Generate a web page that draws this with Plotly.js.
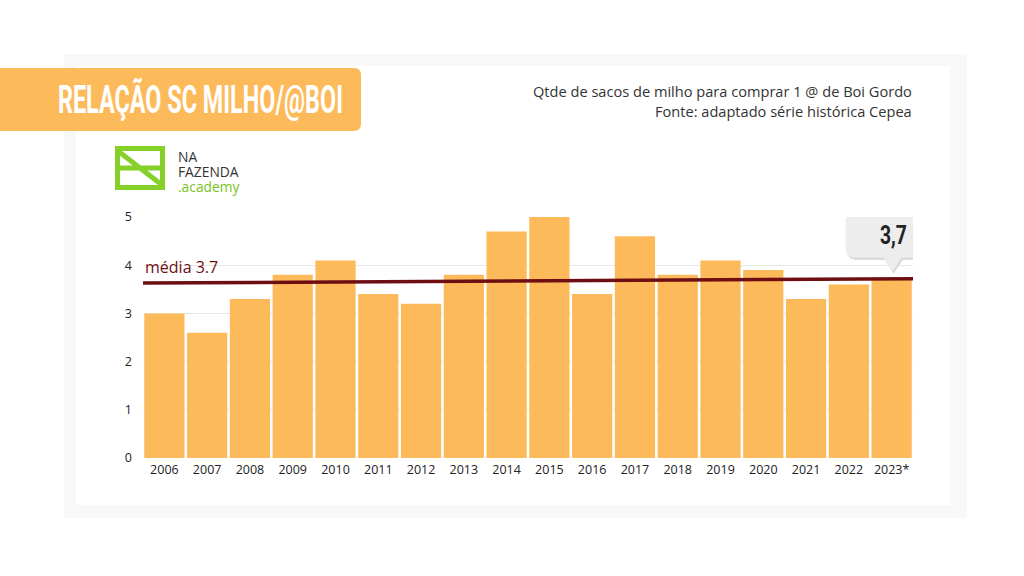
<!DOCTYPE html>
<html><head><meta charset="utf-8">
<script src="https://cdn.plot.ly/plotly-3.0.1.min.js"></script>
<style>html,body{margin:0;padding:0;background:#fff}#chart{width:1024px;height:576px}</style>
</head><body><div id="chart"></div>
<script>
const years = ['2006','2007','2008','2009','2010','2011','2012','2013','2014','2015','2016','2017','2018','2019','2020','2021','2022','2023*'];
const ratio = [3.0,2.6,3.3,3.8,4.1,3.4,3.2,3.8,4.7,5.0,3.4,4.6,3.8,4.1,3.9,3.3,3.6,3.7];
const meanValue = 3.7;
const meanEnds = [3.63, 3.72];
const yTicks = [0,1,2,3,4,5];
const titleText = 'RELAÇÃO SC MILHO/@BOI';
const subtitle1 = 'Qtde de sacos de milho para comprar 1 @ de Boi Gordo';
const subtitle2 = 'Fonte: adaptado série histórica Cepea';
const calloutText = '3,7';
const logoLines = ['NA', 'FAZENDA', '.academy'];

const W = 1024, H = 576;
const px = x => x / W;
const py = y => 1 - y / H;
const idx = years.map((_, i) => i);
const last = years.length - 1;

function line(x0,y0,x1,y1,color,w){
  return {type:'line', xref:'paper', yref:'paper', x0:px(x0), y0:py(y0), x1:px(x1), y1:py(y1), line:{color:color,width:w}, layer:'above'};
}
function rrectRight(x0,y0,x1,y1,r){
  let d = 'M' + px(x0) + ',' + py(y0);
  d += ' L' + px(x1-r) + ',' + py(y0);
  d += ' Q' + px(x1) + ',' + py(y0) + ' ' + px(x1) + ',' + py(y0+r);
  d += ' L' + px(x1) + ',' + py(y1-r);
  d += ' Q' + px(x1) + ',' + py(y1) + ' ' + px(x1-r) + ',' + py(y1);
  d += ' L' + px(x0) + ',' + py(y1);
  return d + ' Z';
}
// callout bubble path in pixel offsets relative to the 2023 value (y up positive)
function bubblePath(dx, dy){
  const L=-46+dx, R=51+dx, B=22+dy, T=67+dy, r=10, tip=8+dy;
  return 'M' + (L+r) + ',' + B +
    ' L' + (-8+dx) + ',' + B + ' L' + (1+dx) + ',' + tip + ' L' + (10+dx) + ',' + B +
    ' L' + (R-r) + ',' + B + ' Q' + R + ',' + B + ' ' + R + ',' + (B+r) +
    ' L' + R + ',' + (T-r) + ' Q' + R + ',' + T + ' ' + (R-r) + ',' + T +
    ' L' + (L+r) + ',' + T + ' Q' + L + ',' + T + ' ' + L + ',' + (T-r) +
    ' L' + L + ',' + (B+r) + ' Q' + L + ',' + B + ' ' + (L+r) + ',' + B + ' Z';
}

const green = '#86D02A';
const shapes = [
  {type:'rect', xref:'paper', yref:'paper', x0:px(64), x1:px(967), y0:py(54), y1:py(518), fillcolor:'#F8F8F8', line:{width:0}, layer:'below'},
  {type:'rect', xref:'paper', yref:'paper', x0:px(76), x1:px(950), y0:py(66), y1:py(505), fillcolor:'#FFFFFF', line:{width:0}, layer:'below'},
  {type:'path', xref:'paper', yref:'paper', path:rrectRight(0,68,361,131,7), fillcolor:'#FDBA5B', line:{width:0}, layer:'above'},
  // logo gate
  line(117.5,146,117.5,190,green,5),
  line(162.5,146,162.5,190,green,5),
  line(115,148.5,165,148.5,green,5),
  line(115,168,165,168,green,5),
  line(115,187.5,165,187.5,green,5),
  line(118,151,162,185,green,5),
  // callout shadow + bubble
  {type:'path', xref:'x', yref:'y', xsizemode:'pixel', ysizemode:'pixel', xanchor:last, yanchor:ratio[last], path:bubblePath(1,-2), fillcolor:'#D6D6D6', line:{width:0}, layer:'above'},
  {type:'path', xref:'x', yref:'y', xsizemode:'pixel', ysizemode:'pixel', xanchor:last, yanchor:ratio[last], path:bubblePath(0,0), fillcolor:'#EDEDED', line:{width:0}, layer:'above'}
];

const traces = [
  {type:'bar', x:idx, y:ratio, marker:{color:'#FDBA5B', line:{width:0}}, hoverinfo:'x+y', showlegend:false},
  {type:'scatter', mode:'lines', x:[-0.5, years.length-0.5], y:meanEnds, line:{color:'#6E0E12', width:3.5}, hoverinfo:'skip', showlegend:false}
];

const annotations = [
  {xref:'paper', yref:'paper', x:px(200.5), y:py(100), xanchor:'center', yanchor:'middle', text:'<b>'+titleText+'</b>', showarrow:false,
   font:{family:'Roboto, sans-serif', size:38, color:'#FFFFFF'}},
  {xref:'paper', yref:'paper', x:px(914), y:py(91), xanchor:'right', yanchor:'middle', text:subtitle1, showarrow:false,
   font:{family:'Open Sans, sans-serif', size:14.6, color:'#333333'}},
  {xref:'paper', yref:'paper', x:px(914), y:py(111), xanchor:'right', yanchor:'middle', text:subtitle2, showarrow:false,
   font:{family:'Open Sans, sans-serif', size:14.6, color:'#333333'}},
  {xref:'paper', yref:'paper', x:px(176), y:py(171), xanchor:'left', yanchor:'middle', align:'left', showarrow:false,
   text:'<span style="font-size:13.8px">'+logoLines[0]+'</span><br><span style="font-size:13.8px">'+logoLines[1]+'</span><br><span style="font-size:13.8px;color:#7CC21C">'+logoLines[2]+'</span>',
   font:{family:'Open Sans, sans-serif', size:11.6, color:'#333333'}},
  {xref:'x', yref:'y', x:-0.5, y:meanEnds[0], xanchor:'left', yanchor:'bottom', yshift:3, text:'média ' + meanValue.toFixed(1), showarrow:false,
   font:{family:'Open Sans, sans-serif', size:16, color:'#6E0E12'}},
  {xref:'x', yref:'y', x:last, y:ratio[last], xanchor:'center', yanchor:'middle', xshift:2, yshift:44, text:'<b>'+calloutText+'</b>', showarrow:false,
   font:{family:'Roboto, sans-serif', size:25, color:'#222222'}}
];

const layout = {
  width:W, height:H,
  margin:{l:0,r:0,t:0,b:0},
  paper_bgcolor:'#FFFFFF', plot_bgcolor:'rgba(0,0,0,0)',
  bargap:0.06,
  showlegend:false,
  xaxis:{domain:[px(143), px(913)], range:[-0.5, years.length-0.5], tickmode:'array', tickvals:idx, ticktext:years,
    showgrid:false, zeroline:false, showline:false, ticks:'', tickfont:{family:'Open Sans, sans-serif', size:12.5, color:'#222222'}, ticklabelstandoff:2, fixedrange:true},
  yaxis:{domain:[py(458), py(217)], range:[0,5], tickmode:'array', tickvals:yTicks, showgrid:true, gridcolor:'#E8E8E8', gridwidth:1,
    zeroline:false, showline:false, ticks:'', tickfont:{family:'Open Sans, sans-serif', size:12.5, color:'#222222'}, ticklabelstandoff:10, fixedrange:true},
  shapes:shapes,
  annotations:annotations
};

Plotly.newPlot('chart', traces, layout, {displayModeBar:false, staticPlot:true}).then(gd => {
  // condense the headline and callout glyphs like the reference's narrow display face
  const squeeze = {};
  squeeze[titleText] = 285;
  squeeze[calloutText] = 27;
  gd.querySelectorAll('.annotation-text').forEach(t => {
    const w = squeeze[t.textContent];
    if (w) { t.setAttribute('textLength', w); t.setAttribute('lengthAdjust', 'spacingAndGlyphs'); }
  });
});
</script></body></html>
